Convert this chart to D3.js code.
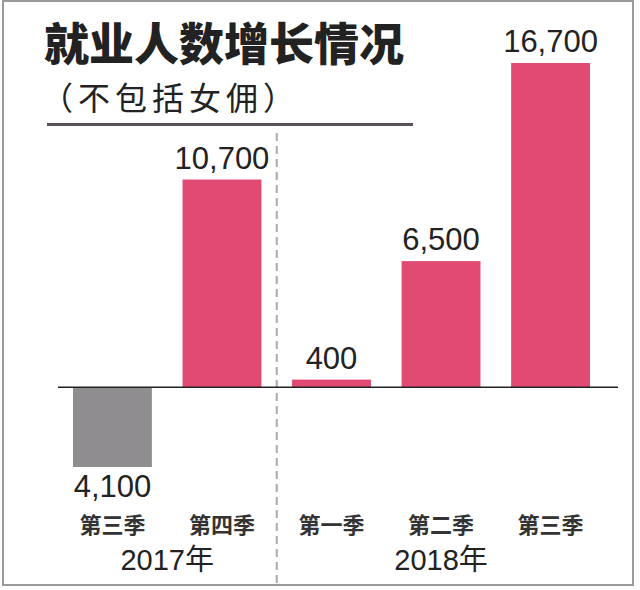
<!DOCTYPE html>
<html>
<head>
<meta charset="utf-8">
<script src="https://cdn.jsdelivr.net/npm/d3@7"></script>
<style>
  body { margin: 0; background: #fff; }
</style>
</head>
<body>
<div id="chart"></div>
<script>
// data
const quarters = ["第三季", "第四季", "第一季", "第二季", "第三季"]
const values = [-4100, 10700, 400, 6500, 16700]
const years = ["2017年", "2018年"]
const yearOf = [0, 0, 1, 1, 1]

const width = 640
const height = 590
const cjk = "'Noto Sans CJK SC', 'Noto Sans CJK TC', sans-serif"
const latin = "'Liberation Sans', Arial, 'Noto Sans CJK SC', sans-serif"

const svg = d3.select("#chart")
    .append("svg")
    .attr("width", width)
    .attr("height", height)

// frame
svg.append("rect")
    .attr("x", 3).attr("y", 1)
    .attr("width", 630).attr("height", 584)
    .attr("fill", "#fff")
    .attr("stroke", "#9a9a9a")
    .attr("stroke-width", 2)

let x = d3.scaleBand()
    .domain(d3.range(values.length))
    .range([73, 590])
    .paddingInner(0.28)
    .paddingOuter(0)

let y = d3.scaleLinear()
    .domain([-4100, 16700])
    .range([467, 63])

// title
svg.append("text")
    .attr("x", 44)
    .attr("y", 61)
    .style("font-family", cjk)
    .style("font-weight", "900")
    .style("font-size", "45px")
    .attr("fill", "#222")
    .text("就业人数增长情况")

svg.append("text")
    .attr("x", 41)
    .attr("y", 110)
    .style("font-family", cjk)
    .style("font-size", "32px")
    .style("letter-spacing", "5px")
    .attr("fill", "#222")
    .text("（不包括女佣）")

svg.append("line")
    .attr("x1", 47).attr("x2", 413)
    .attr("y1", 124.5).attr("y2", 124.5)
    .attr("stroke", "#5a5258")
    .attr("stroke-width", 3)

// year divider
const divX = (x(1) + x.bandwidth() + x(2)) / 2
svg.append("line")
    .attr("x1", divX).attr("x2", divX)
    .attr("y1", 133).attr("y2", 584)
    .attr("stroke", "#aaa")
    .attr("stroke-width", 2)
    .attr("stroke-dasharray", "8,5")

// bars
svg.append("g")
    .selectAll("rect")
    .data(values)
    .join("rect")
    .attr("x", (d, i) => x(i))
    .attr("width", x.bandwidth())
    .attr("y", d => y(Math.max(0, d)))
    .attr("height", d => Math.abs(y(d) - y(0)))
    .attr("fill", d => d < 0 ? "#8f8d8f" : "#e04a73")

// baseline
svg.append("line")
    .attr("x1", 58).attr("x2", 618)
    .attr("y1", y(0)).attr("y2", y(0))
    .attr("stroke", "#222")
    .attr("stroke-width", 1.5)

// value labels
svg.append("g")
    .selectAll("text")
    .data(values)
    .join("text")
    .attr("x", (d, i) => x(i) + x.bandwidth() / 2)
    .attr("y", d => d < 0 ? y(d) + 30 : y(d) - 11)
    .attr("text-anchor", "middle")
    .style("font-family", latin)
    .style("font-size", "31px")
    .attr("fill", "#222")
    .text(d => d3.format(",")(Math.abs(d)))

// quarter labels
svg.append("g")
    .selectAll("text")
    .data(quarters)
    .join("text")
    .attr("x", (d, i) => x(i) + x.bandwidth() / 2)
    .attr("y", 525)
    .attr("dy", "0.36em")
    .attr("text-anchor", "middle")
    .style("font-family", cjk)
    .style("font-weight", "700")
    .style("font-size", "22px")
    .attr("fill", "#333")
    .text(d => d)

// year labels
svg.append("g")
    .selectAll("text")
    .data(years)
    .join("text")
    .attr("x", (d, k) => {
        const idx = d3.range(values.length).filter(i => yearOf[i] === k)
        return d3.mean(idx, i => x(i) + x.bandwidth() / 2)
    })
    .attr("y", 560)
    .attr("dy", "0.36em")
    .attr("text-anchor", "middle")
    .style("font-family", latin)
    .style("font-size", "29px")
    .attr("fill", "#222")
    .text(d => d)
</script>
</body>
</html>
